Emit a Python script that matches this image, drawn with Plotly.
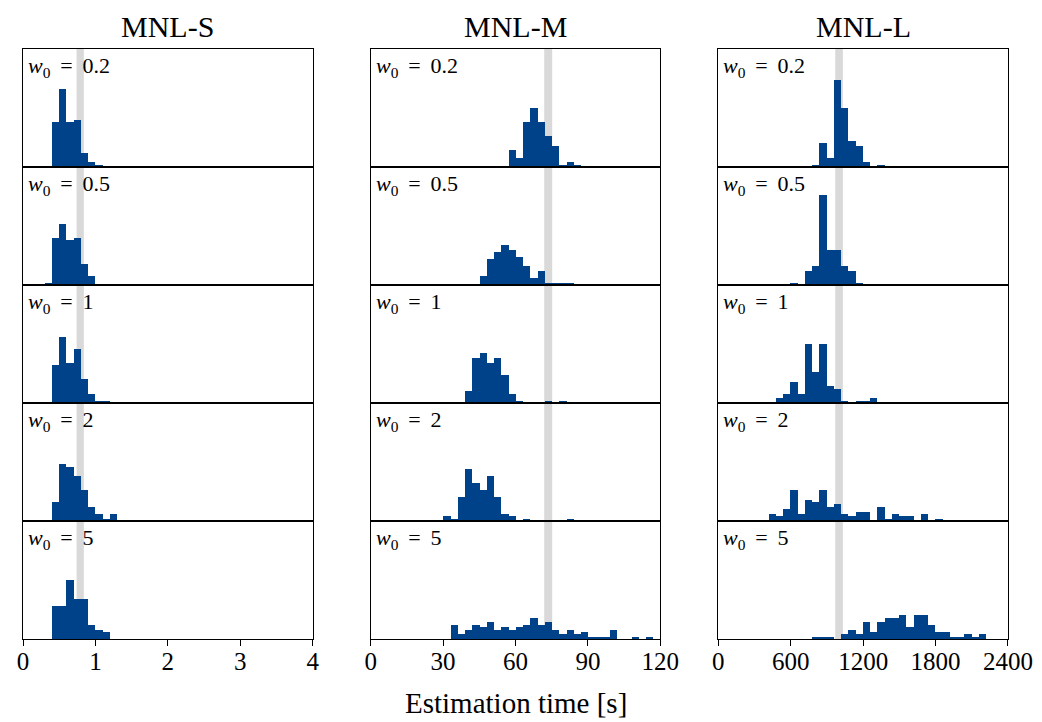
import plotly.graph_objects as go
from plotly.subplots import make_subplots

# ---------------- data ----------------
columns = ["MNL-S", "MNL-M", "MNL-L"]
w0_labels = ["0.2", "0.5", "1", "2", "5"]
bin_width = [0.1, 3, 60]
x_ranges = [[0, 4], [0, 120], [0, 2400]]
x_ticks = [[0, 1, 2, 3, 4], [0, 30, 60, 90, 120], [0, 600, 1200, 1800, 2400]]
ref_band = [(0.74, 0.84), (71.9, 75.2), (969, 1032)]

# MNL-S (bins of 0.1 s): (first bin edge, counts)
s_w02 = (0.4, [19, 33, 19, 20, 6, 2, 1])
s_w05 = (0.3, [1, 20, 26, 19, 20, 9, 4])
s_w1 = (0.4, [16, 28, 17, 23, 10, 4, 1, 1])
s_w2 = (0.4, [8, 24, 23, 19, 13, 6, 3, 1, 3])
s_w5 = (0.4, [14, 14, 25, 17, 17, 6, 4, 3])

# MNL-M (bins of 3 s)
m_w02 = (57, [7, 4, 19, 25, 19, 13, 9, 1, 2, 1])
m_w05 = (45, [4, 11, 14, 17, 15, 12, 8, 3, 6, 1, 1, 1, 1])
m_w1 = (39, [5, 19, 21, 17, 19, 12, 4, 1, 0, 0, 0, 1, 0, 1])
m_w2 = (30, [2, 1, 10, 22, 16, 13, 19, 10, 3, 2, 0, 1, 0, 0, 0, 0, 0, 1])
m_w5 = (33, [6, 2, 4, 6, 5, 7, 4, 5, 4, 5, 6, 9, 6, 7, 4, 2, 4, 2, 3, 1, 1, 1, 4, 0, 0, 1, 0, 1])

# MNL-L (bins of 60 s)
l_w02 = (780, [1, 10, 4, 37, 25, 11, 9, 2, 0, 1])
l_w05 = (600, [1, 0, 6, 8, 38, 15, 15, 8, 6, 1])
l_w1 = (480, [2, 4, 9, 4, 25, 13, 25, 7, 6, 1, 0, 1, 1, 2])
l_w2 = (420, [3, 2, 5, 13, 3, 9, 8, 13, 6, 7, 3, 2, 4, 4, 0, 6, 1, 3, 2, 2, 0, 3, 0, 1])
l_w5 = (780, [1, 1, 1, 0, 2, 4, 2, 7, 3, 7, 9, 9, 10, 5, 10, 10, 6, 3, 3, 1, 1, 2, 1, 2])

panels = [
    [s_w02, s_w05, s_w1, s_w2, s_w5],
    [m_w02, m_w05, m_w1, m_w2, m_w5],
    [l_w02, l_w05, l_w1, l_w2, l_w5],
]

BAR = "#00428a"
BAND = "#d9d9d9"
FONT = "Liberation Serif"

fig = make_subplots(rows=5, cols=3, horizontal_spacing=0.0588, vertical_spacing=0)

for c in range(3):
    for r in range(5):
        start, counts = panels[c][r]
        bw = bin_width[c]
        lefts = [start + i * bw for i in range(len(counts))]
        fig.add_trace(
            go.Bar(x=lefts, y=counts, width=[bw] * len(counts), offset=0,
                   marker=dict(color=BAR, line=dict(width=0)), showlegend=False,
                   hoverinfo="x+y"),
            row=r + 1, col=c + 1)
        fig.add_vrect(x0=ref_band[c][0], x1=ref_band[c][1], fillcolor=BAND, opacity=1,
                      line_width=0, layer="below", row=r + 1, col=c + 1)
        fig.add_annotation(text=f"<i>w</i><sub>0</sub> &#8201;= &#8201;{w0_labels[r]}",
                           x=0.01, y=0.985, xref="x domain", yref="y domain",
                           xanchor="left", yanchor="top", showarrow=False,
                           font=dict(family=FONT, size=22, color="black"),
                           row=r + 1, col=c + 1)
        bottom = (r == 4)
        fig.update_xaxes(range=x_ranges[c], tickvals=x_ticks[c], showticklabels=bottom,
                         ticks="outside" if bottom else "", ticklen=6, tickwidth=1,
                         tickcolor="black", showline=True, linecolor="black", linewidth=1,
                         mirror=True, showgrid=False, zeroline=False,
                         ticklabelstandoff=-6,
                         tickfont=dict(family=FONT, size=25, color="black"),
                         row=r + 1, col=c + 1)
        fig.update_yaxes(range=[0, 50], showticklabels=False, ticks="", showline=True,
                         linecolor="black", linewidth=1, mirror=True, showgrid=False,
                         zeroline=False, row=r + 1, col=c + 1)

# column titles
for c in range(3):
    dom = fig.layout[f"xaxis{c + 1 if c else ''}"].domain
    fig.add_annotation(text=columns[c], x=(dom[0] + dom[1]) / 2, y=1, xref="paper", yref="paper",
                       xanchor="center", yanchor="bottom", yshift=4, showarrow=False,
                       font=dict(family=FONT, size=30, color="black"))

fig.add_annotation(text="Estimation time [s]", x=0.5, y=0, xref="paper", yref="paper",
                   xanchor="center", yanchor="top", yshift=-46, showarrow=False,
                   font=dict(family=FONT, size=29, color="black"))

# page body has an 8px margin: shrink the figure so the plot areas land where they should
fig.update_layout(width=1034, height=714, margin=dict(l=9, r=33, t=41, b=83),
                  plot_bgcolor="white", paper_bgcolor="white", bargap=0)

fig.write_html("out.html")
